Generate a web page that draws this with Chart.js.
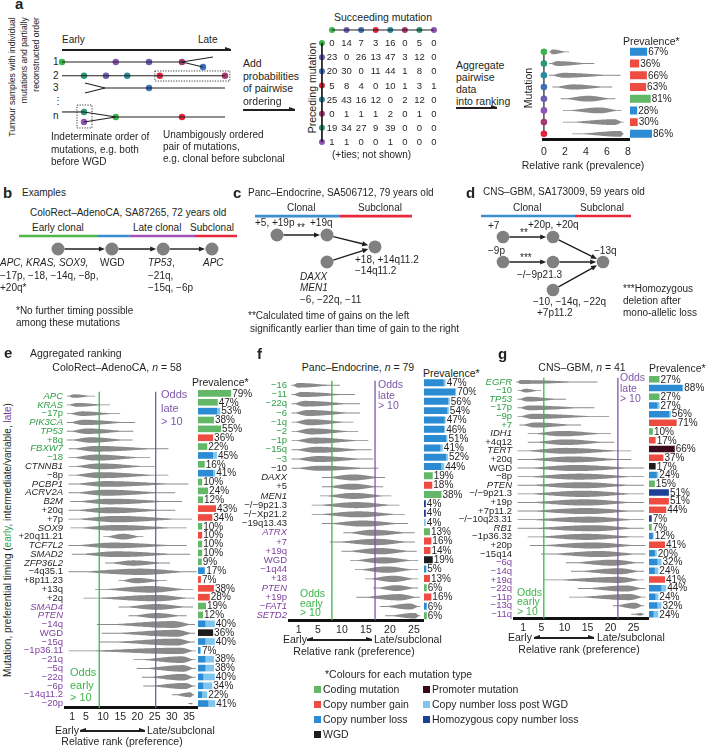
<!DOCTYPE html>
<html>
<head>
<meta charset="utf-8">
<title>Timing of mutations</title>
<script src="https://cdn.jsdelivr.net/npm/chart.js@4.4.1/dist/chart.umd.min.js"></script>
<style>
  body { margin: 0; background: #fff; }
  #fig { position: relative; width: 706px; height: 748px; overflow: hidden; background: #fff;
         font-family: "Liberation Sans", Arial, sans-serif; font-size: 10px; color: #231f20; }
  #fig canvas { position: absolute; }
  .t { position: absolute; white-space: nowrap; line-height: 1; }
</style>
</head>
<body>
<div id="fig"></div>
<script>
// ---------------- data ----------------
// panel a: toy ranking, prevalence and pairwise counts
const aRankLo   = [0.5, 0.5, 0.5, 0.8, 1.6, 1.8, 1.8, 2.7];
const aRankPeak = [0.8, 1.3, 1.9, 2.8, 4.2, 5.3, 6.7, 7.3];
const aRankHi   = [2.4, 4.8, 7.3, 6.5, 6.8, 7.4, 7.6, 7.6];
const aRankDens = [0.42, 0.42, 0.42, 0.45, 0.5, 0.5, 0.5, 0.5];
const aPrev     = [67, 36, 66, 63, 81, 28, 30, 86];
const aPrevType = 'LGGGCLGL';
const aTicks    = [0, 2, 4, 6, 8];
const aMatrixOrder = [0, 4, 3, 7, 2, 6, 1, 5];
const aPairs = [
  [0, 14, 7, 3, 16, 0, 5, 0],
  [23, 0, 26, 13, 47, 3, 12, 0],
  [20, 30, 0, 11, 44, 1, 8, 0],
  [5, 8, 4, 0, 10, 1, 3, 1],
  [25, 43, 16, 12, 0, 2, 12, 0],
  [0, 1, 1, 1, 2, 0, 1, 0],
  [19, 34, 27, 9, 39, 0, 0, 0],
  [1, 1, 0, 0, 1, 0, 0, 0]
];
// schematic tumour samples: [t0, lane0, t1, lane1] and dots [t, lane, mutation]
const aTrackLines = [
  [0, 1, 7.36, 1], [7.36, 1, 9.26, 0.64], [7.36, 1, 8.65, 1.36],
  [0, 2, 10, 2],
  [1.41, 2.52, 2.64, 2.88], [1.41, 3.25, 2.64, 2.88], [2.64, 2.88, 10, 2.88],
  [0, 4.62, 1.35, 4.62], [1.35, 4.62, 3.3, 4.99], [1.35, 5.35, 3.3, 4.99], [3.3, 4.99, 10, 4.99]
];
const aTrackDots = [
  [0, 1, 0], [3.3, 1, 5], [5.34, 1, 4], [7.36, 1, 6], [8.65, 1.36, 3],
  [1.35, 2, 1], [2.7, 2, 4], [4, 2, 2], [6, 2, 7], [10, 2, 6],
  [5.34, 2.88, 3],
  [1.35, 4.62, 1], [1.35, 5.35, 5], [3.3, 4.99, 0], [7.36, 4.99, 7]
];
const aTrackBoxes = [[5.7, 1.65, 10.3, 2.38], [0.92, 4.12, 1.84, 5.78]];

// panels b-d: example timelines (stage, lane)
const bNodes = [[0, 0], [1.05, 0], [2.05, 0], [3, 0]];
const bEdges = [[0, 1], [1, 2], [2, 3]];
const bPhases = [[-0.76, 0.76, 'g'], [0.76, 1.4, 'b'], [1.4, 2.67, 'p'], [2.67, 3.49, 'r']];
const cNodes = [[0, 0], [1, 0], [1, 1], [1.96, 0.44]];
const cEdges = [[0, 1], [1, 3], [2, 3]];
const cPhases = [[-0.44, 1.26, 'b'], [1.26, 2.7, 'r']];
const dNodes = [[0, 0], [1, 0], [0, 1], [1, 1], [1, 2.12], [2, 1]];
const dEdges = [[0, 1], [1, 5], [2, 3], [3, 5], [4, 5]];
const dPhases = [[-0.44, 1.44, 'b'], [1.44, 2.56, 'r']];

// panel e: ColoRect-AdenoCA
const eLabels = ['APC', 'KRAS', '−17p', 'PIK3CA', 'TP53', '+8q', 'FBXW7', '−18', 'CTNNB1', '−8p',
  'PCBP1', 'ACRV2A', 'B2M', '+20q', '+7p', 'SOX9', '+20q11.21', 'TCF7L2', 'SMAD2', 'ZFP36L2',
  '−4q35.1', '+8p11.23', '+13q', '+2q', 'SMAD4', 'PTEN', '−14q', 'WGD', '−15q', '−1p36.11',
  '−21q', '−5q', '−22q', '−6p', '−14q11.2', '−20p'];
const eTiming = 'EEEEEEEEIIIIIIIIIIIIIIIILLLLLLLLLLLL';
const eLo   = [-0.5, -0.5, -0.5, -0.5, -0.5, -0.5, 0, 0, 0, 0, 0, 0, 0.5, 0, 0, 0.5, 10.1, 0, 0.9, 10.6,
  0, 14.5, 7.7, 4.3, 14.5, 17.4, 8.2, 9.6, 9.1, 0, 18.8, 19.8, 21.3, 21.7, 30, 34.8];
const ePeak = [1.6, 2.5, 4, 4.5, 5.5, 6.5, 8, 8, 9.1, 9.1, 11, 11, 12, 12, 14, 14, 15.9, 13, 14, 18.8,
  20.8, 19.8, 23.7, 25.6, 25.6, 25.6, 30.4, 31.4, 31.4, 32.4, 32.9, 33.3, 33.3, 33.8, 35.3, 35.9];
const eHi   = [7.7, 12, 15, 19.3, 18.8, 18.6, 29, 23.7, 25, 29, 34.8, 31, 32.9, 31, 35.8, 34.3, 21.7, 34.3, 35.3, 29.5,
  37.2, 28.5, 36.2, 36.7, 36.2, 34.3, 36.7, 36.7, 36.7, 37, 36.9, 36.9, 36.9, 36.9, 36.5, 36];
const eDens = [0.4, 0.45, 0.52, 0.6, 0.62, 0.62, 0.65, 0.68, 0.65, 0.68, 0.65, 0.68, 0.65, 0.68, 0.72, 0.65, 0.65, 0.65, 0.65, 0.6,
  0.72, 0.6, 0.75, 0.72, 0.65, 0.6, 0.78, 0.78, 0.78, 0.72, 0.75, 0.75, 0.75, 0.7, 0.55, 0.2];
const ePrev = [79, 47, 53, 38, 55, 36, 22, 45, 16, 41, 10, 24, 12, 43, 34, 10, 10, 10, 10, 9,
  17, 7, 38, 28, 19, 12, 40, 36, 40, 7, 38, 38, 40, 34, 22, 41];
const ePost = [0, 0, 7, 0, 0, 0, 0, 9, 0, 5, 0, 0, 0, 0, 0, 0, 0, 0, 0, 0,
  1, 0, 0, 0, 0, 0, 22, 0, 22, 2, 20, 20, 27, 21, 12, 16];
const eType = 'CCLCCGCLCLCCCGGCGCCCLGGGCCLWLLLLLLLL';
const eTicks = [1, 5, 10, 15, 20, 25, 30, 35];

// panel f: Panc-Endocrine
const fLabels = ['−16', '−11', '−22q', '−6', '−1q', '−2', '−1p', '−15q', '−3', '−10', 'DAXX', '+5', 'MEN1',
  '−/−9p21.3', '−/−Xp21.2', '−19q13.43', 'ATRX', '+7', '+19q', 'WGD', '−1q44', '+18', 'PTEN', '+19p', '−FAT1', 'SETD2'];
const fTiming = 'EEEEEEEEEIIIIIIILLLLLLLLLL';
const fLo   = [-0.5, -0.5, -0.5, -0.5, -0.5, -0.5, -0.5, -0.5, -0.5, -0.5, 5.8, 5.8, 5.4, 3.7, 3.7, 5.8, 10.3, 7.5, 9.9, 11.7,
  12.7, 14.8, 16.5, 13, 17.9, 19];
const fPeak = [0.9, 1.6, 2.3, 3, 3.3, 3.7, 4.4, 4.7, 5.1, 5.4, 12.4, 12.2, 12.4, 13, 13.4, 14.4, 16.5, 17.2, 17.9, 18.6,
  19.3, 20.7, 21.4, 22, 24.2, 25.2];
const fHi   = [9.6, 12.7, 13.75, 13.75, 12.4, 13.4, 15.5, 16.2, 16.5, 17.6, 19, 18.6, 20.3, 22, 23.1, 23.8, 25.2, 25.2, 25.6, 25.9,
  25.9, 25.9, 25.9, 26.3, 26.3, 26.3];
const fDens = [0.5, 0.55, 0.62, 0.65, 0.65, 0.65, 0.65, 0.65, 0.65, 0.55, 0.65, 0.65, 0.65, 0.65, 0.65, 0.65, 0.65, 0.68, 0.68, 0.68,
  0.68, 0.68, 0.62, 0.68, 0.65, 0.6];
const fPrev = [47, 70, 56, 54, 47, 46, 51, 41, 52, 44, 19, 18, 38, 4, 4, 4, 13, 16, 14, 19, 5, 13, 6, 16, 6, 6];
const fPost = [4, 2, 3, 3, 2, 2, 3, 5, 4, 6, 0, 0, 0, 0, 0, 4, 0, 0, 0, 0, 0, 0, 0, 0, 0, 0];
const fType = 'LLLLLLLLLLCGCHHLCGGWLGCGLC';
const fTicks = [1, 5, 10, 15, 20, 25];

// panel g: CNS-GBM
const gLabels = ['EGFR', '−10', 'TP53', '−17p', '−9p', '+7', 'IDH1', '+4q12', 'TERT', '+20q', 'WGD', '−8p', 'PTEN',
  '−/−9p21.3', '+19p', '+7p11.2', '−/−10q23.31', 'RB1', '−1p36.32', '+20p', '−15q14', '−6q', '−14q', '+19q',
  '−22q', '−11p', '−13q', '−11q'];
const gTiming = 'EEEEEEIIIIIIIIIIIIIIILLLLLLL';
const gLo   = [-0.5, -0.2, -0.2, -0.2, -0.2, 0.2, 2, 2, -0.2, -0.2, -0.2, -0.2, -0.2, -0.2, -0.2, -0.2, -0.2, -0.2, 2, 2.4,
  4.9, 10.3, 11.4, 5.6, 12.9, 11, 20.5, 24.5];
const gPeak = [0.5, 1.6, 2, 2.4, 3.1, 3.8, 9.6, 10.3, 10.3, 11.8, 12.5, 13.2, 13.6, 14, 14.3, 14.7, 15.4, 16.1, 14.7, 16.1,
  17.6, 20.5, 21.9, 21.9, 23.4, 24.1, 25.2, 26.6];
const gHi   = [17.2, 4.9, 10.3, 16.5, 19.7, 13.6, 20.1, 20.8, 24.5, 24.5, 27.3, 27.3, 27.3, 27.3, 27.3, 27.3, 27.3, 27.3, 27.3, 27.6,
  27.6, 27.3, 27.3, 27.3, 27.6, 27.6, 27.3, 27.3];
const gDens = [0.45, 0.42, 0.55, 0.55, 0.6, 0.6, 0.62, 0.65, 0.68, 0.68, 0.7, 0.7, 0.7, 0.72, 0.72, 0.7, 0.7, 0.7, 0.7, 0.7,
  0.7, 0.7, 0.7, 0.7, 0.7, 0.7, 0.7, 0.3];
const gPrev = [27, 88, 27, 27, 56, 71, 10, 17, 66, 37, 17, 24, 15, 51, 51, 44, 7, 7, 12, 41, 20, 32, 24, 41, 44, 24, 32, 24];
const gPost = [0, 2, 0, 5, 4, 0, 0, 0, 0, 0, 0, 4, 0, 0, 0, 0, 0, 0, 2, 0, 5, 10, 9, 0, 12, 7, 10, 12];
const gType = 'CLCLLGCGPGWLCHGGHCLGLLLGLLLL';
const gTicks = [1, 5, 10, 15, 20, 25];

// ---------------- styles ----------------
const FONT = '"Liberation Sans", Arial, sans-serif';
const INK = '#231f20';
const GREEN_T = '#2f9e48', PURPLE_T = '#7d3f9e';
const LINE_G = '#3db54a', LINE_P = '#7e57a8';
const VIOLIN = '#8a8a8a';
const typeColors = { C: '#63b867', G: '#ee4c40', L: '#2b8bd3', H: '#1d3f95', P: '#3c0a1c', W: '#1c1c1c' };
const POST = '#7ec6ef';
const mutColors = ['#3cb44b', '#2c9a70', '#2b8b9c', '#3a70bd', '#6760b4', '#8d55b6', '#a8386f', '#e3223c'];
const phaseColors = { g: '#4db848', b: '#3a8fd1', p: '#a152b4', r: '#e8283c' };
const tone = { E: GREEN_T, I: INK, L: PURPLE_T };

Chart.defaults.font.family = FONT;
Chart.defaults.color = INK;

const fig = document.getElementById('fig');

function mkCanvas(x, y, w, h) {
  const c = document.createElement('canvas');
  c.width = w; c.height = h;
  c.style.cssText = `left:${x}px;top:${y}px;width:${w}px;height:${h}px`;
  fig.appendChild(c);
  return c;
}

function txt(x, y, html, o = {}) {
  const d = document.createElement('div');
  d.className = 't';
  d.innerHTML = html;
  d.style.left = x + 'px';
  d.style.top = y + 'px';
  const ax = o.align === 'right' ? '-100%' : o.align === 'center' ? '-50%' : '0';
  d.style.transform = o.rot ? 'translate(-50%,-50%) rotate(-90deg)' : `translate(${ax},-50%)`;
  if (o.size) d.style.fontSize = o.size + 'px';
  if (o.color) d.style.color = o.color;
  if (o.bold) d.style.fontWeight = 'bold';
  if (o.css) d.style.cssText += o.css;
  fig.appendChild(d);
  return d;
}

function head(x, y, dir) {
  const h = document.createElement('div');
  h.style.cssText = `position:absolute;top:${y - 2.6}px;left:${dir > 0 ? x - 6 : x}px;width:0;height:0;` +
    `border-top:2.6px solid transparent;border-bottom:2.6px solid transparent;` +
    (dir > 0 ? `border-left:6px solid ${INK}` : `border-right:6px solid ${INK}`);
  fig.appendChild(h);
}

function arrow(x1, x2, y, both) {
  const l = document.createElement('div');
  l.style.cssText = `position:absolute;left:${x1}px;top:${y - 0.6}px;width:${x2 - x1}px;height:1.2px;background:${INK}`;
  fig.appendChild(l);
  head(x2, y, 1);
  if (both) head(x1, y, -1);
}

const isGene = l => l !== 'WGD' && /[A-Z][A-Z0-9]/.test(l);

function baseOptions() {
  return {
    animation: false, responsive: false, events: [],
    plugins: { legend: { display: false }, tooltip: { enabled: false } }
  };
}

// vertical geometry shared by a ranking chart and its prevalence bars
function rowsBox(first, band, n, axis) {
  const padTop = 5;
  const top = first - band / 2 - padTop;
  const h = Math.round(padTop + n * band + axis);
  return { top, h, padTop, axisH: h - padTop - n * band };
}

function drawViolin(ctx, xs, yc, lo, pk, hi, half) {
  const pts = [];
  const n = 30;
  for (let k = 0; k <= n; k++) pts.push([lo + (pk - lo) * k / n, (1 - Math.cos(Math.PI * k / n)) / 2]);
  for (let k = 1; k <= n; k++) pts.push([pk + (hi - pk) * k / n, (1 + Math.cos(Math.PI * k / n)) / 2]);
  const hw = f => Math.max(half * f, 0.45);
  ctx.beginPath();
  pts.forEach(([v, f], k) => {
    const px = xs.getPixelForValue(v);
    if (k) ctx.lineTo(px, yc - hw(f)); else ctx.moveTo(px, yc - hw(f));
  });
  for (let k = pts.length - 1; k >= 0; k--) ctx.lineTo(xs.getPixelForValue(pts[k][0]), yc + hw(pts[k][1]));
  ctx.closePath();
  ctx.fill();
}

function rankChart(o) {
  const n = o.lo.length;
  const g = rowsBox(o.first, o.band, n, o.axis);
  const cv = mkCanvas(o.x, g.top, o.right + o.padRight - o.x, g.h);
  const violins = {
    id: 'violins',
    afterDatasetsDraw(chart) {
      const { ctx, chartArea: ca, scales: { x: xs, y: ys } } = chart;
      ctx.save();
      if (o.dots) {
        const x0 = xs.getPixelForValue(0);
        ctx.strokeStyle = INK; ctx.lineWidth = 1.2;
        ctx.beginPath(); ctx.moveTo(x0, ys.getPixelForValue(0)); ctx.lineTo(x0, ys.getPixelForValue(n - 1)); ctx.stroke();
        o.dots.forEach((c, i) => {
          ctx.fillStyle = c;
          ctx.beginPath(); ctx.arc(x0, ys.getPixelForValue(i), 3.3, 0, Math.PI * 2); ctx.fill();
        });
      }
      ctx.fillStyle = VIOLIN;
      for (let i = 0; i < n; i++) {
        drawViolin(ctx, xs, ys.getPixelForValue(i), o.lo[i], o.peak[i], o.hi[i], o.dens[i] * o.band / 2);
      }
      if (o.early !== undefined) {
        [[o.early, LINE_G], [o.late, LINE_P]].forEach(([v, c]) => {
          const px = xs.getPixelForValue(v);
          ctx.strokeStyle = c; ctx.lineWidth = 1.3;
          ctx.beginPath(); ctx.moveTo(px, ca.top); ctx.lineTo(px, ca.bottom); ctx.stroke();
        });
      }
      ctx.restore();
    }
  };
  const opts = baseOptions();
  Object.assign(opts, {
    indexAxis: 'y',
    layout: { padding: { top: g.padTop, right: o.padRight, left: 0, bottom: 0 }, autoPadding: false },
    scales: {
      x: {
        type: 'linear', min: o.min, max: o.max,
        grid: { display: false, drawTicks: false },
        border: { display: true, color: '#111', width: 3 },
        ticks: { font: { family: FONT, size: 10.5 }, color: INK, padding: o.tickPad || 3 },
        afterBuildTicks: s => { s.ticks = o.ticks.map(v => ({ value: v })); },
        afterFit: s => { s.height = g.axisH; }
      },
      y: {
        type: 'category',
        grid: { display: false, drawTicks: false },
        border: { display: false },
        ticks: {
          display: !!o.timing, autoSkip: false, padding: 2,
          font: c => ({ family: FONT, size: 9.5, style: isGene(o.labels[c.index]) ? 'italic' : 'normal' }),
          color: c => tone[o.timing ? o.timing[c.index] : 'I']
        },
        afterFit: s => { s.width = o.left - o.x; }
      }
    }
  });
  new Chart(cv, {
    type: 'bar',
    data: {
      labels: o.labels,
      datasets: [{
        data: o.lo.map((v, i) => [v, o.hi[i]]),
        backgroundColor: 'rgba(0,0,0,0)', borderWidth: 0, barPercentage: 1, categoryPercentage: 1
      }]
    },
    options: opts,
    plugins: [violins]
  });
}

function prevChart(o) {
  const n = o.total.length;
  const g = rowsBox(o.first, o.band, n, o.axis);
  const cv = mkCanvas(o.x, g.top, o.w, g.h);
  const datasets = Object.keys(typeColors).map(k => ({
    data: o.total.map((t, i) => (o.type[i] === k ? t - o.post[i] : 0)),
    backgroundColor: typeColors[k]
  }));
  datasets.push({ data: o.post, backgroundColor: POST });
  datasets.forEach(d => Object.assign(d, { barPercentage: o.bar, categoryPercentage: 1, borderWidth: 0 }));
  const opts = baseOptions();
  Object.assign(opts, {
    indexAxis: 'y',
    layout: { padding: { top: g.padTop, bottom: g.axisH, left: 0, right: 0 }, autoPadding: false },
    scales: {
      x: { display: false, stacked: true, min: 0, max: o.max },
      y: { display: false, stacked: true }
    }
  });
  new Chart(cv, {
    type: 'bar',
    data: { labels: o.total.map((_, i) => String(i)), datasets },
    options: opts,
    plugins: [{
      id: 'pct',
      afterDatasetsDraw(chart) {
        const { ctx, scales: { x: xs, y: ys } } = chart;
        ctx.save();
        ctx.font = `10px ${FONT}`;
        ctx.fillStyle = INK;
        ctx.textBaseline = 'middle';
        o.total.forEach((t, i) => ctx.fillText(t + '%', xs.getPixelForValue(t) + 1, ys.getPixelForValue(i) + 0.5));
        ctx.restore();
      }
    }]
  });
}

function diagram(o) {
  const cv = mkCanvas(o.x, o.y, o.w, o.h);
  const datasets = [];
  (o.phases || []).forEach(p => datasets.push({
    data: [{ x: p[0], y: o.phaseY }, { x: p[1], y: o.phaseY }],
    showLine: true, borderColor: phaseColors[p[2]], borderWidth: 2.6, pointRadius: 0
  }));
  (o.segs || []).forEach(s => datasets.push({
    data: [{ x: s[0], y: s[1] }, { x: s[2], y: s[3] }],
    showLine: true, borderColor: INK, borderWidth: 1.1, pointRadius: 0
  }));
  datasets.push({
    data: o.nodes.map(p => ({ x: p[0], y: p[1] })),
    pointRadius: o.r, pointBackgroundColor: o.colors || '#808080', pointBorderWidth: 0
  });
  const opts = baseOptions();
  Object.assign(opts, {
    layout: { padding: 0, autoPadding: false },
    scales: {
      x: { type: 'linear', display: false, min: o.xr[0], max: o.xr[1] },
      y: { type: 'linear', display: false, min: o.yr[0], max: o.yr[1], reverse: true }
    }
  });
  new Chart(cv, {
    type: 'scatter',
    data: { datasets },
    options: opts,
    plugins: [{
      id: 'edges',
      beforeDatasetsDraw(chart) {
        const { ctx, scales: { x: xs, y: ys } } = chart;
        const px = p => [xs.getPixelForValue(p[0]), ys.getPixelForValue(p[1])];
        ctx.save();
        ctx.strokeStyle = INK; ctx.fillStyle = INK; ctx.lineWidth = 1.4;
        (o.edges || []).forEach(([a, b]) => {
          const [x1, y1] = px(o.nodes[a]);
          const [x2, y2] = px(o.nodes[b]);
          const d = Math.hypot(x2 - x1, y2 - y1), ux = (x2 - x1) / d, uy = (y2 - y1) / d;
          const ex = x2 - ux * (o.r + 0.5), ey = y2 - uy * (o.r + 0.5);
          ctx.beginPath();
          ctx.moveTo(x1 + ux * o.r, y1 + uy * o.r);
          ctx.lineTo(ex - ux * 4, ey - uy * 4);
          ctx.stroke();
          ctx.beginPath();
          ctx.moveTo(ex, ey);
          ctx.lineTo(ex - ux * 6 - uy * 2.6, ey - uy * 6 + ux * 2.6);
          ctx.lineTo(ex - ux * 6 + uy * 2.6, ey - uy * 6 - ux * 2.6);
          ctx.closePath();
          ctx.fill();
        });
        ctx.setLineDash([1.2, 1.4]);
        ctx.lineWidth = 0.9;
        (o.boxes || []).forEach(b => {
          const [x1, y1] = px([b[0], b[1]]);
          const [x2, y2] = px([b[2], b[3]]);
          ctx.strokeRect(x1, y1, x2 - x1, y2 - y1);
        });
        ctx.restore();
      }
    }]
  });
}

function pairMatrix() {
  const cv = mkCanvas(312, 22, 130, 128);
  const n = aPairs.length;
  const idx = [...Array(n).keys()];
  const cols = aMatrixOrder.map(k => mutColors[k]);
  const opts = baseOptions();
  Object.assign(opts, {
    layout: { padding: 0, autoPadding: false },
    scales: {
      x: { type: 'linear', display: false, min: -1.373, max: 7.55 },
      y: { type: 'linear', display: false, min: -1.485, max: 7.567, reverse: true }
    }
  });
  new Chart(cv, {
    type: 'scatter',
    data: {
      datasets: [
        { data: [{ x: -0.69, y: 0 }, { x: -0.69, y: n - 1 }], showLine: true, borderColor: INK, borderWidth: 1, pointRadius: 0 },
        { data: [{ x: 0, y: -0.92 }, { x: n - 1, y: -0.92 }], showLine: true, borderColor: INK, borderWidth: 1, pointRadius: 0 },
        { data: idx.map(i => ({ x: -0.69, y: i })), pointRadius: 3, pointBackgroundColor: cols, pointBorderWidth: 0 },
        { data: idx.map(i => ({ x: i, y: -0.92 })), pointRadius: 3, pointBackgroundColor: cols, pointBorderWidth: 0 }
      ]
    },
    options: opts,
    plugins: [{
      id: 'cells',
      afterDatasetsDraw(chart) {
        const { ctx, scales: { x: xs, y: ys } } = chart;
        ctx.save();
        ctx.font = `9.5px ${FONT}`;
        ctx.fillStyle = INK;
        ctx.textAlign = 'center';
        ctx.textBaseline = 'middle';
        aPairs.forEach((row, i) => row.forEach((v, j) => ctx.fillText(String(v), xs.getPixelForValue(j), ys.getPixelForValue(i) + 0.5)));
        ctx.restore();
      }
    }]
  });
}

// ---------------- panel a ----------------
txt(15, 3, 'a', { bold: true, size: 15 });
txt(24, 77, 'Tumour samples with individual<br>mutations and partially<br>reconstructed order',
  { rot: true, size: 8.6, css: 'text-align:right;line-height:12px' });
txt(62, 40, 'Early');
txt(198, 40, 'Late');
arrow(62, 231, 50, false);
[['1', 62], ['2', 76], ['3', 88], ['⋮', 101], ['n', 116]].forEach(([s, y]) => txt(53, y, s));
diagram({
  x: 45, y: 30, w: 195, h: 105, xr: [-1.043, 10.92], yr: [-1.319, 6.29],
  segs: aTrackLines,
  nodes: aTrackDots.map(d => [d[0], d[1]]),
  colors: aTrackDots.map(d => mutColors[d[2]]),
  r: 3.2, boxes: aTrackBoxes
});
['Indeterminate order of', 'mutations, e.g. both', 'before WGD'].forEach((s, i) => txt(51, 137 + 12.5 * i, s));
['Unambigously ordered', 'pair of mutations,', 'e.g. clonal before subclonal'].forEach((s, i) => txt(163, 135 + 12 * i, s));
['Add', 'probabilities', 'of pairwise', 'ordering'].forEach((s, i) => txt(243, 63 + 12.7 * i, s, { size: 10.5 }));
arrow(243, 295, 110, false);
txt(383, 17, 'Succeeding mutation', { align: 'center', size: 10.5 });
txt(312, 88, 'Preceding mutation', { rot: true, size: 10.5 });
pairMatrix();
txt(332, 155, '(+ties; not shown)');
['Aggregate', 'pairwise', 'data', 'into ranking'].forEach((s, i) => txt(456, 65 + 12 * i, s, { size: 10.5 }));
arrow(456, 497, 108, false);
txt(528, 88, 'Mutation', { rot: true, size: 10.5 });
rankChart({
  x: 535, left: 540, right: 629, padRight: 8, first: 52, band: 11.71, axis: 19, tickPad: 6,
  min: 0, max: 8.1, ticks: aTicks, labels: aPrev.map((_, i) => String(i + 1)),
  lo: aRankLo, peak: aRankPeak, hi: aRankHi, dens: aRankDens, dots: mutColors
});
prevChart({ x: 630, w: 76, first: 52, band: 11.71, axis: 19, max: 297, bar: 0.68,
  total: aPrev, post: aPrev.map(() => 0), type: aPrevType });
txt(623, 41, 'Prevalence*', { size: 10.5 });
txt(583, 165, 'Relative rank (prevalence)', { align: 'center', size: 10.5 });

// ---------------- panel b ----------------
txt(3, 192, 'b', { bold: true, size: 15 });
txt(22, 193, 'Examples');
txt(30, 213, 'ColoRect–AdenoCA, SA87265, 72 years old');
txt(32, 228, 'Early clonal');
txt(133, 228, 'Late clonal');
txt(190, 228, 'Subclonal');
diagram({ x: 0, y: 226, w: 240, h: 32, xr: [-1.131, 3.547], yr: [-1.769, 0.692],
  nodes: bNodes, edges: bEdges, r: 6.5, phases: bPhases, phaseY: -1 });
txt(0, 263, '<i>APC, KRAS, SOX9,</i>');
txt(0, 276, '−17p, −18, −14q, −8p,');
txt(0, 288, '+20q*');
txt(100, 263, 'WGD');
txt(148, 263, '<i>TP53</i>,');
txt(148, 276, '−21q,');
txt(148, 288, '−15q, −6p');
txt(203, 263, '<i>APC</i>');
txt(16, 311, '*No further timing possible');
txt(16, 323, 'among these mutations');

// ---------------- panel c ----------------
txt(233, 192, 'c', { bold: true, size: 15 });
txt(248, 193, 'Panc–Endocrine, SA506712, 79 years old');
txt(287, 208, 'Clonal');
txt(358, 208, 'Subclonal');
diagram({ x: 245, y: 205, w: 175, h: 65, xr: [-0.64, 2.86], yr: [-1.111, 1.296],
  nodes: cNodes, edges: cEdges, r: 6.5, phases: cPhases, phaseY: -0.7 });
txt(255, 223, '+5, +19p');
txt(297, 228, '**');
txt(310, 223, '+19q');
txt(300, 277, '<i>DAXX</i>');
txt(300, 288, '<i>MEN1</i>');
txt(300, 300, '−6, −22q, −11');
txt(355, 260, '+18, +14q11.2');
txt(355, 271, '−14q11.2');
txt(248, 316, '**Calculated time of gains on the left');
txt(250, 329, 'significantly earlier than time of gain to the right');

// ---------------- panel d ----------------
txt(466, 192, 'd', { bold: true, size: 15 });
txt(483, 192, 'CNS–GBM, SA173009, 59 years old');
txt(513, 208, 'Clonal');
txt(580, 208, 'Subclonal');
diagram({ x: 470, y: 205, w: 170, h: 95, xr: [-0.66, 2.74], yr: [-1.28, 2.52],
  nodes: dNodes, edges: dEdges, r: 6.3, phases: dPhases, phaseY: -0.84 });
txt(488, 226, '+7');
txt(520, 233, '**');
txt(528, 225, '+20p, +20q');
txt(488, 251, '−9p');
txt(520, 258, '***');
txt(594, 251, '−13q');
txt(517, 275, '−/−9p21.3');
txt(533, 302, '−10, −14q, −22q');
txt(537, 313, '+7p11.2');
txt(623, 289, '***Homozygous');
txt(623, 301, 'deletion after');
txt(623, 313, 'mono-allelic loss');

// ---------------- panel e ----------------
txt(4, 352, 'e', { bold: true, size: 15 });
txt(30, 353, 'Aggregated ranking', { size: 10.5 });
txt(117, 367, 'ColoRect–AdenoCA, <i>n</i> = 58', { align: 'center', size: 10.5 });
txt(192, 382, 'Prevalence*', { size: 10.5 });
txt(8, 540, `Mutation, preferential timing (<span style="color:${GREEN_T}">early</span>, intermediate/variable, <span style="color:${PURPLE_T}">late</span>)`,
  { rot: true, size: 10 });
rankChart({
  x: 0, left: 65, right: 197, padRight: 4, first: 393, band: 8.86, axis: 15,
  min: -1.05, max: 37.3, ticks: eTicks, labels: eLabels, timing: eTiming,
  lo: eLo, peak: ePeak, hi: eHi, dens: eDens, early: 8.9, late: 25.3
});
prevChart({ x: 198, w: 56, first: 393, band: 8.86, axis: 15, max: 133.3, bar: 0.75,
  total: ePrev, post: ePost, type: eType });
['Odds', 'late', '&gt; 10'].forEach((s, i) => txt(161, 394 + 13.5 * i, s, { size: 11, color: LINE_P }));
['Odds', 'early', '&gt; 10'].forEach((s, i) => txt(70, 672 + 12.5 * i, s, { size: 11, color: LINE_G }));
txt(55, 730, 'Early', { size: 10.5 });
arrow(80, 145, 731, true);
txt(147, 730, 'Late/subclonal', { size: 10.5 });
txt(122, 741, 'Relative rank (preference)', { align: 'center', size: 10.5 });

// ---------------- panel f ----------------
txt(257, 353, 'f', { bold: true, size: 15 });
txt(358, 367, 'Panc–Endocrine, <i>n</i> = 79', { align: 'center', size: 10.5 });
txt(423, 373, 'Prevalence*', { size: 10.5 });
rankChart({
  x: 236, left: 289, right: 423, padRight: 4, first: 383, band: 9.32, axis: 15,
  min: -1.04, max: 26.9, ticks: fTicks, labels: fLabels, timing: fTiming,
  lo: fLo, peak: fPeak, hi: fHi, dens: fDens, early: 7.9, late: 16.9
});
prevChart({ x: 424, w: 52, first: 383, band: 9.32, axis: 15, max: 113, bar: 0.75,
  total: fPrev, post: fPost, type: fType });
['Odds', 'late', '&gt; 10'].forEach((s, i) => txt(378, 384 + 10.5 * i, s, { size: 10.5, color: LINE_P }));
['Odds', 'early', '&gt; 10'].forEach((s, i) => txt(300, 593 + 9.5 * i, s, { size: 10.5, color: LINE_G }));
txt(283, 639, 'Early', { size: 10.5 });
arrow(307, 372, 640, true);
txt(374, 639, 'Late/subclonal', { size: 10.5 });
txt(354, 651, 'Relative rank (preference)', { align: 'center', size: 10.5 });

// legend
txt(325, 674, '*Colours for each mutation type', { size: 10.5 });
[['C', 'Coding mutation'], ['G', 'Copy number gain'], ['L', 'Copy number loss'], ['W', 'WGD'],
 ['P', 'Promoter mutation'], ['POST', 'Copy number loss post WGD'], ['H', 'Homozygous copy number loss']]
  .forEach(([k, s], i) => {
    const x = i < 4 ? 314 : 423, y = 689 + 15 * (i < 4 ? i : i - 4);
    const sq = document.createElement('div');
    sq.style.cssText = `position:absolute;left:${x}px;top:${y - 3}px;width:6.5px;height:6.5px;background:${k === 'POST' ? POST : typeColors[k]}`;
    fig.appendChild(sq);
    txt(x + 9, y, s, { size: 10.5 });
  });

// ---------------- panel g ----------------
txt(498, 353, 'g', { bold: true, size: 15 });
txt(582, 367, 'CNS–GBM, <i>n</i> = 41', { align: 'center', size: 10.5 });
txt(649, 368, 'Prevalence*', { size: 10.5 });
rankChart({
  x: 458, left: 514, right: 648, padRight: 4, first: 379, band: 8.7, axis: 15,
  min: -0.98, max: 28.15, ticks: gTicks, labels: gLabels, timing: gTiming,
  lo: gLo, peak: gPeak, hi: gHi, dens: gDens, early: 5.5, late: 21.6
});
prevChart({ x: 649, w: 57, first: 379, band: 8.7, axis: 15, max: 146.2, bar: 0.75,
  total: gPrev, post: gPost, type: gType });
['Odds', 'late', '&gt; 10'].forEach((s, i) => txt(620, 377 + 10.7 * i, s, { size: 10.5, color: LINE_P }));
['Odds', 'early', '&gt; 10'].forEach((s, i) => txt(517, 592 + 9.3 * i, s, { size: 10.5, color: LINE_G }));
txt(508, 637, 'Early', { size: 10.5 });
arrow(534, 594, 638, true);
txt(597, 637, 'Late/subclonal', { size: 10.5 });
txt(579, 649, 'Relative rank (preference)', { align: 'center', size: 10.5 });
</script>
</body>
</html>
